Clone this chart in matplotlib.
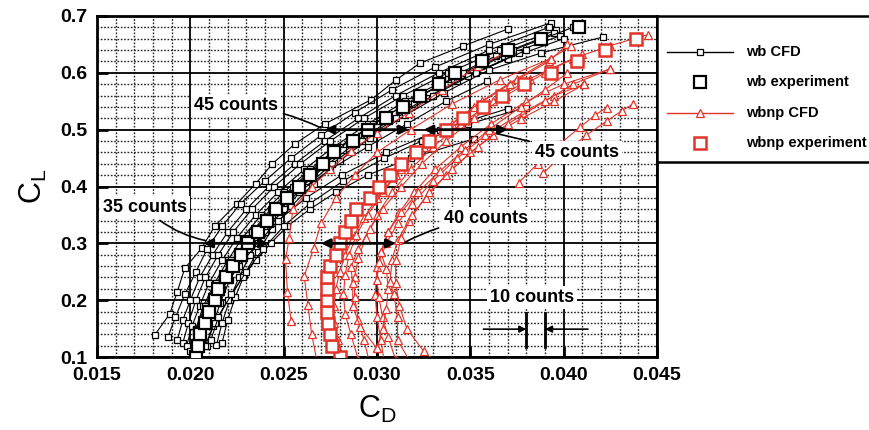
import matplotlib
matplotlib.use("Agg")
import matplotlib.pyplot as plt
from matplotlib.ticker import MultipleLocator, FormatStrFormatter

plt.rcParams['font.family'] = ['Liberation Sans', 'DejaVu Sans']
plt.rcParams['font.weight'] = 'bold'
plt.rcParams['mathtext.default'] = 'regular'

RED = '#e3342a'

# ---- wing-body (wb) CFD polars: CL and CD per solution ----
wb_cfd_cl = [
    [0.139, 0.176, 0.215, 0.256, 0.291, 0.330, 0.370, 0.405, 0.440, 0.475, 0.510, 0.553, 0.587, 0.617, 0.647, 0.677],
    [0.135, 0.170, 0.210, 0.250, 0.290, 0.330, 0.370, 0.410, 0.450, 0.490, 0.530, 0.570, 0.610, 0.650, 0.688],
    [0.130, 0.165, 0.200, 0.240, 0.280, 0.320, 0.360, 0.400, 0.440, 0.480, 0.520, 0.560, 0.600, 0.640, 0.680],
    [0.125, 0.160, 0.200, 0.240, 0.280, 0.320, 0.360, 0.400, 0.440, 0.480, 0.520, 0.560, 0.600, 0.640, 0.675],
    [0.120, 0.155, 0.190, 0.230, 0.270, 0.310, 0.350, 0.390, 0.430, 0.470, 0.510, 0.550, 0.590, 0.630, 0.670],
    [0.110, 0.150, 0.190, 0.230, 0.270, 0.310, 0.350, 0.390, 0.430, 0.470, 0.510, 0.550, 0.590, 0.630, 0.665],
    [0.115, 0.150, 0.185, 0.225, 0.265, 0.305, 0.345, 0.385, 0.425, 0.465, 0.505, 0.545, 0.585, 0.625, 0.660],
    [0.125, 0.160, 0.200, 0.240, 0.280, 0.320, 0.360, 0.400, 0.440, 0.480, 0.520, 0.560, 0.600, 0.640, 0.680],
    [0.120, 0.155, 0.195, 0.235, 0.275, 0.315, 0.355, 0.395, 0.435, 0.475, 0.515, 0.555, 0.595, 0.635],
    [0.121, 0.160, 0.200, 0.240, 0.280, 0.320, 0.360, 0.400, 0.440, 0.480, 0.520, 0.560, 0.600, 0.640],
    [0.125, 0.165, 0.205, 0.245, 0.285, 0.325, 0.365, 0.405, 0.445, 0.485, 0.525, 0.565, 0.605, 0.635, 0.663],
    [0.120, 0.160, 0.200, 0.240, 0.270, 0.300, 0.330, 0.360, 0.390, 0.420, 0.450, 0.484],
    [0.130, 0.170, 0.210, 0.250, 0.290, 0.330, 0.370, 0.410, 0.450, 0.480, 0.510, 0.539],
    [0.140, 0.180, 0.220, 0.260, 0.300, 0.340, 0.380, 0.420, 0.460, 0.500, 0.537],
    [0.150, 0.190, 0.230, 0.270, 0.310, 0.350, 0.390, 0.430, 0.470, 0.510, 0.550, 0.585],
]
wb_cfd_cd = [
    [0.0181, 0.0189, 0.0193, 0.0197, 0.0206, 0.0213, 0.0225, 0.0235, 0.0244, 0.0256, 0.0272, 0.0297, 0.0310, 0.0323, 0.0346, 0.0370],
    [0.0188, 0.0192, 0.0197, 0.0203, 0.0209, 0.0217, 0.0227, 0.0240, 0.0254, 0.0270, 0.0288, 0.0308, 0.0331, 0.0360, 0.0393],
    [0.0193, 0.0196, 0.0200, 0.0205, 0.0212, 0.0220, 0.0230, 0.0242, 0.0256, 0.0272, 0.0290, 0.0310, 0.0333, 0.0360, 0.0392],
    [0.0196, 0.0199, 0.0203, 0.0208, 0.0215, 0.0223, 0.0233, 0.0245, 0.0259, 0.0275, 0.0293, 0.0314, 0.0338, 0.0366, 0.0396],
    [0.0198, 0.0201, 0.0205, 0.0210, 0.0217, 0.0225, 0.0235, 0.0247, 0.0261, 0.0277, 0.0295, 0.0315, 0.0338, 0.0364, 0.0395],
    [0.0200, 0.0203, 0.0207, 0.0213, 0.0220, 0.0228, 0.0238, 0.0250, 0.0264, 0.0280, 0.0298, 0.0318, 0.0341, 0.0368, 0.0398],
    [0.0202, 0.0205, 0.0209, 0.0215, 0.0222, 0.0230, 0.0240, 0.0252, 0.0266, 0.0282, 0.0300, 0.0320, 0.0343, 0.0370, 0.0400],
    [0.0206, 0.0209, 0.0213, 0.0218, 0.0225, 0.0233, 0.0243, 0.0255, 0.0269, 0.0285, 0.0303, 0.0323, 0.0346, 0.0373, 0.0405],
    [0.0209, 0.0212, 0.0216, 0.0221, 0.0228, 0.0236, 0.0246, 0.0258, 0.0272, 0.0288, 0.0306, 0.0326, 0.0349, 0.0376],
    [0.0214, 0.0217, 0.0221, 0.0226, 0.0232, 0.0240, 0.0250, 0.0262, 0.0276, 0.0292, 0.0310, 0.0330, 0.0353, 0.0380],
    [0.0217, 0.0220, 0.0224, 0.0229, 0.0236, 0.0244, 0.0254, 0.0266, 0.0280, 0.0296, 0.0315, 0.0336, 0.0360, 0.0388, 0.0421],
    [0.0208, 0.0213, 0.0220, 0.0228, 0.0235, 0.0243, 0.0252, 0.0264, 0.0278, 0.0295, 0.0318, 0.0352],
    [0.0211, 0.0215, 0.0222, 0.0230, 0.0239, 0.0250, 0.0264, 0.0282, 0.0304, 0.0324, 0.0349, 0.0380],
    [0.0205, 0.0210, 0.0217, 0.0226, 0.0236, 0.0247, 0.0262, 0.0281, 0.0305, 0.0334, 0.0370],
    [0.0203, 0.0208, 0.0214, 0.0222, 0.0232, 0.0244, 0.0258, 0.0275, 0.0295, 0.0316, 0.0337, 0.0359],
]

# ---- wing-body-nacelle-pylon (wbnp) CFD polars ----
wbnp_cfd_cl = [
    [0.163, 0.215, 0.272, 0.310, 0.361, 0.400, 0.430, 0.463, 0.495, 0.530, 0.570, 0.612, 0.640],
    [0.090, 0.140, 0.191, 0.242, 0.291, 0.335, 0.380, 0.420, 0.460, 0.500, 0.545, 0.588, 0.625],
    [0.090, 0.130, 0.160, 0.190, 0.220, 0.250, 0.280, 0.310, 0.345, 0.380, 0.420, 0.460, 0.500, 0.540, 0.580, 0.620, 0.650],
    [0.095, 0.140, 0.175, 0.210, 0.245, 0.280, 0.315, 0.350, 0.390, 0.430, 0.470, 0.510, 0.550, 0.590, 0.625, 0.647],
    [0.090, 0.130, 0.165, 0.205, 0.240, 0.275, 0.310, 0.350, 0.390, 0.430, 0.470, 0.510, 0.550, 0.590, 0.625, 0.648, 0.667],
    [0.115, 0.153, 0.190, 0.230, 0.258, 0.290, 0.325, 0.360, 0.400, 0.440, 0.480, 0.520, 0.560, 0.600, 0.633],
    [0.090, 0.130, 0.170, 0.209, 0.258, 0.284, 0.320, 0.355, 0.390, 0.430, 0.470, 0.510, 0.550, 0.580, 0.607],
    [0.095, 0.135, 0.170, 0.205, 0.235, 0.267, 0.300, 0.335, 0.370, 0.410, 0.450, 0.490, 0.530, 0.560, 0.580],
    [0.116, 0.150, 0.185, 0.220, 0.255, 0.284, 0.320, 0.355, 0.390, 0.428, 0.465, 0.500, 0.540, 0.570, 0.600],
    [0.090, 0.130, 0.170, 0.210, 0.232, 0.270, 0.305, 0.340, 0.380, 0.420, 0.460, 0.490, 0.519, 0.550, 0.580],
    [0.090, 0.110, 0.150, 0.190, 0.230, 0.270, 0.310, 0.350, 0.390, 0.430, 0.470, 0.510, 0.550, 0.580, 0.607],
    [0.407, 0.440, 0.475, 0.505, 0.526, 0.539],
    [0.423, 0.455, 0.490, 0.515, 0.533, 0.545],
]
wbnp_cfd_cd = [
    [0.0254, 0.0252, 0.0251, 0.0253, 0.0255, 0.0265, 0.0275, 0.0286, 0.0300, 0.0317, 0.0335, 0.0354, 0.0372],
    [0.0268, 0.0265, 0.0263, 0.0261, 0.0266, 0.0270, 0.0278, 0.0288, 0.0300, 0.0318, 0.0340, 0.0366, 0.0393],
    [0.0283, 0.0279, 0.0277, 0.0277, 0.0278, 0.0280, 0.0283, 0.0287, 0.0293, 0.0300, 0.0310, 0.0322, 0.0336, 0.0352, 0.0371, 0.0392, 0.0402],
    [0.0290, 0.0286, 0.0283, 0.0282, 0.0283, 0.0285, 0.0289, 0.0295, 0.0303, 0.0313, 0.0325, 0.0340, 0.0356, 0.0375, 0.0393, 0.0404],
    [0.0296, 0.0293, 0.0290, 0.0288, 0.0288, 0.0290, 0.0294, 0.0300, 0.0308, 0.0318, 0.0330, 0.0345, 0.0362, 0.0382, 0.0405, 0.0425, 0.0445],
    [0.0300, 0.0291, 0.0287, 0.0287, 0.0286, 0.0290, 0.0296, 0.0303, 0.0313, 0.0324, 0.0337, 0.0352, 0.0369, 0.0390, 0.0410],
    [0.0304, 0.0302, 0.0300, 0.0299, 0.0300, 0.0302, 0.0306, 0.0312, 0.0320, 0.0331, 0.0345, 0.0361, 0.0380, 0.0400, 0.0425],
    [0.0310, 0.0306, 0.0303, 0.0301, 0.0300, 0.0301, 0.0305, 0.0311, 0.0319, 0.0330, 0.0343, 0.0358, 0.0378, 0.0395, 0.0411],
    [0.0300, 0.0303, 0.0305, 0.0306, 0.0305, 0.0302, 0.0306, 0.0313, 0.0322, 0.0334, 0.0347, 0.0360, 0.0377, 0.0390, 0.0402],
    [0.0318, 0.0311, 0.0311, 0.0309, 0.0307, 0.0308, 0.0311, 0.0317, 0.0326, 0.0337, 0.0350, 0.0362, 0.0377, 0.0395, 0.0411],
    [0.0332, 0.0325, 0.0316, 0.0312, 0.0310, 0.0310, 0.0313, 0.0319, 0.0328, 0.0340, 0.0354, 0.0370, 0.0390, 0.0405, 0.0425],
    [0.0376, 0.0386, 0.0398, 0.0409, 0.0417, 0.0423],
    [0.0389, 0.0399, 0.0412, 0.0423, 0.0431, 0.0437],
]

# ---- wind-tunnel data ----
wb_exp_cl = [0.10, 0.12, 0.14, 0.16, 0.18, 0.20, 0.22, 0.24, 0.26, 0.28, 0.30, 0.32, 0.34, 0.36, 0.38,
             0.40, 0.42, 0.44, 0.46, 0.48, 0.50, 0.52, 0.54, 0.56, 0.58, 0.60, 0.62, 0.64, 0.66, 0.68]
wb_exp_cd = [0.0203, 0.0204, 0.0205, 0.0208, 0.0210, 0.0213, 0.0215, 0.0219, 0.0223, 0.0227, 0.0231, 0.0236,
             0.0241, 0.0246, 0.0252, 0.0258, 0.0264, 0.0271, 0.0277, 0.0287, 0.0295, 0.0305, 0.0314, 0.0323,
             0.0333, 0.0342, 0.0356, 0.0370, 0.0388, 0.0408]
wbnp_exp_cl = [0.10, 0.12, 0.14, 0.16, 0.18, 0.20, 0.22, 0.24, 0.26, 0.28, 0.30, 0.32, 0.34, 0.36, 0.38,
               0.40, 0.42, 0.44, 0.46, 0.48, 0.50, 0.52, 0.54, 0.56, 0.58, 0.60, 0.62, 0.64, 0.66]
wbnp_exp_cd = [0.0280, 0.0276, 0.0275, 0.0274, 0.0273, 0.0273, 0.0273, 0.0273, 0.0275, 0.0278, 0.0280,
               0.0283, 0.0286, 0.0289, 0.0296, 0.0301, 0.0307, 0.0313, 0.0321, 0.0328, 0.0337, 0.0346,
               0.0357, 0.0367, 0.0379, 0.0393, 0.0407, 0.0422, 0.0439]

legend_labels = ['wb CFD', 'wb experiment', 'wbnp CFD', 'wbnp experiment']

fig = plt.figure(figsize=(8.7, 4.3), dpi=100)
ax = fig.add_axes([97 / 870, 73 / 430, 560 / 870, 341 / 430])
ax.set_xlim(0.015, 0.045)
ax.set_ylim(0.1, 0.7)
ax.xaxis.set_major_locator(MultipleLocator(0.005))
ax.xaxis.set_minor_locator(MultipleLocator(0.001))
ax.yaxis.set_major_locator(MultipleLocator(0.1))
ax.yaxis.set_minor_locator(MultipleLocator(0.02))
ax.xaxis.set_major_formatter(FormatStrFormatter('%.3f'))
ax.yaxis.set_major_formatter(FormatStrFormatter('%.1f'))
ax.set_axisbelow(True)
ax.grid(which='major', color='black', lw=1.3)
ax.grid(which='minor', color='#222222', lw=1.0, ls=(0, (1.2, 1.2)))
for s in ax.spines.values():
    s.set_linewidth(2)
ax.tick_params(which='major', direction='in', length=8, width=2, labelsize=14, pad=7)
ax.tick_params(which='minor', length=0)
ax.set_xlabel('C$_{D}$', fontsize=22, labelpad=7)
ax.set_ylabel('C$_{L}$', fontsize=22, labelpad=8)

for cd, cl in zip(wb_cfd_cd, wb_cfd_cl):
    ax.plot(cd, cl, color='black', lw=0.8, marker='s', ms=5, mfc='white', mec='black', mew=0.9, zorder=3)
for cd, cl in zip(wbnp_cfd_cd, wbnp_cfd_cl):
    ax.plot(cd, cl, color=RED, lw=0.8, marker='^', ms=6, mfc='white', mec=RED, mew=0.9, zorder=4)
ax.plot(wb_exp_cd, wb_exp_cl, ls='none', marker='s', ms=9, mfc='white', mec='black', mew=1.6, zorder=5)
ax.plot(wbnp_exp_cd, wbnp_exp_cl, ls='none', marker='s', ms=9, mfc='white', mec=RED, mew=1.8, zorder=6)

# increment markers (double-headed arrows)
def span(x0, x1, y):
    ax.annotate('', xy=(x0, y), xytext=(x1, y),
                arrowprops=dict(arrowstyle='<|-|>', color='black', lw=2, mutation_scale=13,
                                shrinkA=0, shrinkB=0), zorder=7)

span(0.0207, 0.0242, 0.30)
span(0.0272, 0.0317, 0.50)
span(0.0270, 0.0310, 0.30)
span(0.0325, 0.0370, 0.50)

box = dict(boxstyle='square,pad=0.15', fc='white', ec='none')
lead = dict(arrowstyle='-', color='black', lw=1.2, shrinkA=2, shrinkB=0)
ax.annotate('45 counts', xy=(0.0270, 0.503), xytext=(0.02245, 0.542), fontsize=13, ha='center',
            va='center', bbox=box, arrowprops=dict(lead, connectionstyle='arc3,rad=-0.1'), zorder=8)
ax.annotate('35 counts', xy=(0.0208, 0.305), xytext=(0.01757, 0.363), fontsize=13, ha='center',
            va='center', bbox=box, arrowprops=dict(lead, connectionstyle='arc3,rad=0.15'), zorder=8)
ax.annotate('40 counts', xy=(0.0315, 0.302), xytext=(0.03584, 0.344), fontsize=13, ha='center',
            va='center', bbox=box, arrowprops=dict(lead, connectionstyle='arc3,rad=0.1'), zorder=8)
ax.annotate('45 counts', xy=(0.03643, 0.493), xytext=(0.04071, 0.4596), fontsize=13, ha='center',
            va='center', bbox=box, arrowprops=dict(lead, connectionstyle='arc3,rad=0.0'), zorder=8)
ax.text(0.0383, 0.205, '10 counts', fontsize=13, ha='center', va='center', bbox=box, zorder=8)

# 10-count reference bar
for xv in (0.0380, 0.0390):
    ax.plot([xv, xv], [0.118, 0.177], color='black', lw=2, zorder=7)
ax.annotate('', xy=(0.0380, 0.149), xytext=(0.0357, 0.149),
            arrowprops=dict(arrowstyle='-|>', color='black', lw=1.2, mutation_scale=10, shrinkA=0, shrinkB=0), zorder=7)
ax.annotate('', xy=(0.0390, 0.149), xytext=(0.0413, 0.149),
            arrowprops=dict(arrowstyle='-|>', color='black', lw=1.2, mutation_scale=10, shrinkA=0, shrinkB=0), zorder=7)

# legend panel to the right of the plot
lg = fig.add_axes([657 / 870, (430 - 162) / 430, 213 / 870, 146 / 430])
lg.set_xlim(0, 213)
lg.set_ylim(146, 0)
lg.set_xticks([])
lg.set_yticks([])
for s in lg.spines.values():
    s.set_linewidth(1.8)
lg.spines['right'].set_visible(False)
rows = [36, 66, 97, 127]
lg.plot([10, 76], [rows[0]] * 2, color='black', lw=1.0)
lg.plot([43], [rows[0]], marker='s', ms=5, mfc='white', mec='black', mew=0.9)
lg.plot([43], [rows[1]], marker='s', ms=9, mfc='white', mec='black', mew=1.6)
lg.plot([10, 76], [rows[2]] * 2, color=RED, lw=1.0)
lg.plot([43], [rows[2]], marker='^', ms=6, mfc='white', mec=RED, mew=0.9)
lg.plot([43], [rows[3]], marker='s', ms=9, mfc='white', mec=RED, mew=1.8)
for y, lab in zip(rows, legend_labels):
    lg.text(89, y, lab, fontsize=10.5, va='center', ha='left')

fig.savefig('out.png', dpi=100)
